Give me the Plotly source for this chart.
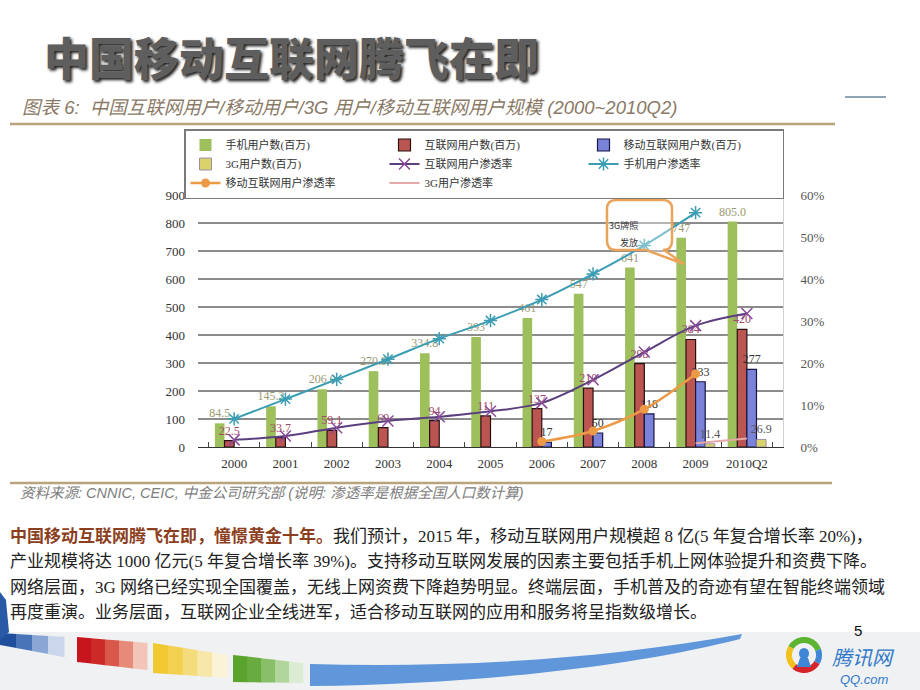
import numpy as np
import plotly.graph_objects as go

# ---------------- data ----------------
years = ["2000", "2001", "2002", "2003", "2004", "2005", "2006", "2007", "2008", "2009", "2010Q2"]
mobile_users = [84.5, 145.2, 206.0, 270.9, 334.8, 393, 461, 547, 641, 747, 805.0]
mobile_labels = ["84.5", "145.2", "206.0", "270.9", "334.8", "393", "461", "547", "641", "747", "805.0"]
internet_users = [22.5, 33.7, 59.1, 69, 94, 111, 137, 210, 298, 384, 420]
mobile_internet_users = [None, None, None, None, None, None, 17, 50, 118, 233, 277]
users_3g = [None, None, None, None, None, None, None, None, None, 11.4, 26.9]
internet_pen = [1.7, 2.6, 4.6, 6.2, 7.2, 8.5, 10.5, 16.0, 22.6, 28.9, 31.8]
mobile_pen = [6.7, 11.4, 16.1, 20.9, 25.8, 30.1, 35.1, 41.2, 48.0, 55.8, None]
mobile_internet_pen = [None, None, None, None, None, None, 1.3, 3.8, 9.0, 17.4, None]
pen_3g = [None, None, None, None, None, None, None, None, None, 0.9, 2.0]

left_ticks = [0, 100, 200, 300, 400, 500, 600, 700, 800, 900]
right_ticks = [0, 10, 20, 30, 40, 50, 60]
right_labels = ["0%", "10%", "20%", "30%", "40%", "50%", "60%"]

W, H = 920, 690
L, R, T, B = 198, 783, 195, 447


def px(x):
    return (x - L) / (R - L)


def py(y):
    return (B - y) / (B - T)


def path_from(points, close=True):
    s = "M " + " L ".join(f"{px(x):.5f},{py(y):.5f}" for x, y in points)
    return s + (" Z" if close else "")


def fmt(v):
    return None if v is None else (f"{v:g}")


SERIF = "Liberation Serif, Noto Sans CJK SC, serif"
CJK = "Noto Sans CJK SC, sans-serif"
GRID = "#8c8c8c"

fig = go.Figure()

fig.add_trace(go.Bar(
    x=years, y=mobile_users, name="手机用户数(百万)",
    marker=dict(color="#9dbf5c", line=dict(width=0)),
    text=mobile_labels, textposition="outside", textangle=0, constraintext="none",
    textfont=dict(family=SERIF, size=12, color="#9a9a72"), cliponaxis=False,
))
fig.add_trace(go.Bar(
    x=years, y=internet_users, name="互联网用户数(百万)",
    marker=dict(color="#bb5552", line=dict(width=1.2, color="#2a1010")),
    text=[fmt(v) for v in internet_users], textposition="outside", textangle=0, constraintext="none",
    textfont=dict(family=SERIF, size=12, color="#a04a66"), cliponaxis=False,
))
fig.add_trace(go.Bar(
    x=years, y=mobile_internet_users, name="移动互联网用户数(百万)",
    marker=dict(color="#7b83d8", line=dict(width=1.2, color="#15154a")),
    text=[fmt(v) for v in mobile_internet_users], textposition="outside", textangle=0, constraintext="none",
    textfont=dict(family=SERIF, size=12, color="#333333"), cliponaxis=False,
))
fig.add_trace(go.Bar(
    x=years, y=users_3g, name="3G用户数(百万)",
    marker=dict(color="#d9d36a", line=dict(width=0.8, color="#8a7aa0")),
    text=[fmt(v) for v in users_3g], textposition="outside", textangle=0, constraintext="none",
    textfont=dict(family=SERIF, size=12, color="#555555"), cliponaxis=False,
))

fig.add_trace(go.Scatter(
    x=years, y=internet_pen, name="互联网用户渗透率", yaxis="y2", mode="lines+markers",
    line=dict(color="#5b3f7e", width=2, shape="spline"),
    marker=dict(symbol="x-thin", size=11, line=dict(width=1.5, color="#8a4a9a")),
))
fig.add_trace(go.Scatter(
    x=years, y=mobile_pen, name="手机用户渗透率", yaxis="y2", mode="lines+markers",
    line=dict(color="#3a9db4", width=2, shape="spline"),
    marker=dict(symbol="asterisk", size=11, line=dict(width=1.5, color="#3a9db4")),
))
fig.add_trace(go.Scatter(
    x=years, y=mobile_internet_pen, name="移动互联网用户渗透率", yaxis="y2", mode="lines+markers",
    line=dict(color="#ec9a45", width=2.5, shape="spline"),
    marker=dict(symbol="circle", size=9, color="#ec9a45"),
))
fig.add_trace(go.Scatter(
    x=years, y=pen_3g, name="3G用户渗透率", yaxis="y2", mode="lines",
    line=dict(color="#e4a8a8", width=2),
))

shapes = []
annotations = []

# page decorations
shapes.append(dict(type="line", xref="paper", yref="paper", x0=px(10), x1=px(835), y0=py(124), y1=py(124),
                   line=dict(color="#b9a27e", width=2.5), layer="below"))
shapes.append(dict(type="line", xref="paper", yref="paper", x0=px(845), x1=px(886), y0=py(97), y1=py(97),
                   line=dict(color="#8ea4b4", width=2), layer="below"))
shapes.append(dict(type="line", xref="paper", yref="paper", x0=px(10), x1=px(832), y0=py(483), y1=py(483),
                   line=dict(color="#b9a27e", width=2.5), layer="below"))

# callout "3G牌照发放"
x0, x1, y0, y1, r = 607, 672, 200, 250, 9
callout = (f"M {px(x0 + r):.5f},{py(y0):.5f} L {px(x1 - r):.5f},{py(y0):.5f} "
           f"Q {px(x1):.5f},{py(y0):.5f} {px(x1):.5f},{py(y0 + r):.5f} "
           f"L {px(x1):.5f},{py(y1 - r):.5f} Q {px(x1):.5f},{py(y1):.5f} {px(x1 - r):.5f},{py(y1):.5f} "
           f"L {px(664):.5f},{py(y1):.5f} L {px(684):.5f},{py(264):.5f} L {px(646):.5f},{py(y1):.5f} "
           f"L {px(x0 + r):.5f},{py(y1):.5f} Q {px(x0):.5f},{py(y1):.5f} {px(x0):.5f},{py(y1 - r):.5f} "
           f"L {px(x0):.5f},{py(y0 + r):.5f} Q {px(x0):.5f},{py(y0):.5f} {px(x0 + r):.5f},{py(y0):.5f} Z")
shapes.append(dict(type="path", xref="paper", yref="paper", path=callout,
                   line=dict(color="#e9a45a", width=2.5), fillcolor="rgba(255,255,255,0.35)", layer="above"))
annotations.append(dict(x=px(640), y=py(217), xref="paper", yref="paper", text="3G牌照", showarrow=False,
                        font=dict(family=CJK, size=9, color="#333333")))
annotations.append(dict(x=px(640), y=py(234), xref="paper", yref="paper", text="发放", showarrow=False,
                        font=dict(family=CJK, size=9, color="#333333")))

# bottom band
shapes.append(dict(type="rect", xref="paper", yref="paper", x0=px(0), x1=px(920), y0=py(690), y1=py(632),
                   fillcolor="#f0f1f3", line=dict(width=0), layer="below"))
# left blue swoosh (fade in steps)
blue_steps = ["#1f4f9c", "#4a74b8", "#8aa6d4", "#c9d6ec"]
for i, c in enumerate(blue_steps):
    xa, xb = i * 16, (i + 1) * 16
    ta, tb = 633 + xa * 0.06, 633 + xb * 0.06
    ba, bb = 645 + xa * 0.19, 645 + xb * 0.19
    shapes.append(dict(type="path", xref="paper", yref="paper",
                       path=path_from([(xa, ta), (xb + 0.5, tb), (xb + 0.5, bb), (xa, ba)]),
                       fillcolor=c, line=dict(width=0), layer="below"))
shapes.append(dict(type="path", xref="paper", yref="paper",
                   path=path_from([(0, 592), (6, 600), (9, 632), (0, 640)]),
                   fillcolor="#2a5aa6", line=dict(width=0), layer="below"))


def block(xl, xr, tl, tr, bl, br, colors):
    n = len(colors)
    for i, c in enumerate(colors):
        fa, fb = i / n, (i + 1) / n
        xa, xb = xl + (xr - xl) * fa, xl + (xr - xl) * fb
        ta, tb = tl + (tr - tl) * fa, tl + (tr - tl) * fb
        ba, bb = bl + (br - bl) * fa, bl + (br - bl) * fb
        shapes.append(dict(type="path", xref="paper", yref="paper",
                           path=path_from([(xa, ta), (xb + 0.5, tb), (xb + 0.5, bb), (xa, ba)]),
                           fillcolor=c, line=dict(width=0), layer="below"))


block(77, 147, 637, 643, 662, 670, ["#c8141c", "#cc2a26", "#d9574a", "#e68a7a", "#f3c4b8"])
block(153, 227, 643, 655, 673, 678, ["#f0c830", "#f2d050", "#f4db7c", "#f7e7a8", "#fbf3d8"])
block(233, 303, 655, 663, 682, 683, ["#5aa32c", "#68ab3e", "#88bf68", "#b1d69c", "#dcecd2"])
swoosh = (f"M {px(310):.5f},{py(664):.5f} C {px(450):.5f},{py(668):.5f} {px(600):.5f},{py(660):.5f} "
          f"{px(742):.5f},{py(634):.5f} L {px(740):.5f},{py(639):.5f} C {px(650):.5f},{py(662):.5f} "
          f"{px(500):.5f},{py(684):.5f} {px(310):.5f},{py(686):.5f} Z")
shapes.append(dict(type="path", xref="paper", yref="paper", path=swoosh,
                   fillcolor="#5f97da", line=dict(width=0), layer="below"))

# logo ring
cx, cy, rr = 804, 655, 15


def arc(a0, a1, color, width=6):
    ang = np.radians(np.linspace(a0, a1, 30))
    pts = [(cx + rr * np.cos(a), cy - rr * np.sin(a)) for a in ang]
    shapes.append(dict(type="path", xref="paper", yref="paper", path=path_from(pts, close=False),
                       line=dict(color=color, width=width), layer="above"))


arc(20, 150, "#5cb531")
arc(150, 230, "#f2c21a")
arc(230, 330, "#d6262a")
arc(330, 380, "#3f86d6")
shapes.append(dict(type="circle", xref="paper", yref="paper", x0=px(799), x1=px(809), y0=py(659), y1=py(648),
                   fillcolor="#3f86d6", line=dict(width=0), layer="above"))
shapes.append(dict(type="path", xref="paper", yref="paper",
                   path=path_from([(797, 667), (800, 658), (808, 658), (811, 667)]),
                   fillcolor="#3f86d6", line=dict(width=0), layer="above"))
annotations.append(dict(x=px(831), y=py(656), xref="paper", yref="paper", xanchor="left", yanchor="middle",
                        text="腾讯网", showarrow=False, borderpad=0,
                        font=dict(family=CJK, size=20, color="#2f78c8", style="italic")))
annotations.append(dict(x=px(839), y=py(679), xref="paper", yref="paper", xanchor="left", yanchor="middle",
                        text="QQ.com", showarrow=False, borderpad=0,
                        font=dict(family="Liberation Sans, Arial", size=13, color="#2f78c8", style="italic")))
annotations.append(dict(x=px(858), y=py(630), xref="paper", yref="paper", xanchor="center", yanchor="middle",
                        text="5", showarrow=False, borderpad=0,
                        font=dict(family="Liberation Sans, Arial", size=15, color="#111111")))

# titles and texts
annotations.append(dict(x=px(42), y=py(56), xref="paper", yref="paper", xanchor="left", yanchor="middle",
                        text="中国移动互联网腾飞在即", showarrow=False,
                        font=dict(family=CJK, size=45, color="#5e5e5e", weight=900,
                                  shadow="2px 2px 3px #1e1e1e")))
annotations.append(dict(x=px(20), y=py(108), xref="paper", yref="paper", xanchor="left", yanchor="middle",
                        text="图表 6:  中国互联网用户/移动用户/3G 用户/移动互联网用户规模 (2000~2010Q2)",
                        showarrow=False,
                        font=dict(family="Liberation Sans, Noto Sans CJK SC", size=18.5, color="#8a7966",
                                  style="italic")))
annotations.append(dict(x=px(18), y=py(493), xref="paper", yref="paper", xanchor="left", yanchor="middle",
                        text="资料来源: CNNIC, CEIC, 中金公司研究部 (说明: 渗透率是根据全国人口数计算)",
                        showarrow=False,
                        font=dict(family="Liberation Sans, Noto Sans CJK SC", size=14.5, color="#7e7e7e",
                                  style="italic")))

para = [
    "<b><span style='color:#8c3f1e'>中国移动互联网腾飞在即，憧憬黄金十年。</span></b>我们预计，2015 年，移动互联网用户规模超 8 亿(5 年复合增长率 20%)，",
    "产业规模将达 1000 亿元(5 年复合增长率 39%)。支持移动互联网发展的因素主要包括手机上网体验提升和资费下降。",
    "网络层面，3G 网络已经实现全国覆盖，无线上网资费下降趋势明显。终端层面，手机普及的奇迹有望在智能终端领域",
    "再度重演。业务层面，互联网企业全线进军，适合移动互联网的应用和服务将呈指数级增长。",
]
para_y = [536, 561, 587, 612]
for t, yy in zip(para, para_y):
    annotations.append(dict(x=px(8), y=py(yy), xref="paper", yref="paper", xanchor="left", yanchor="middle",
                            text=t, showarrow=False,
                            font=dict(family=SERIF, size=17, color="#222222")))

fig.update_layout(
    width=W, height=H,
    margin=dict(l=L, r=W - R, t=T, b=H - B, pad=0, autoexpand=False),
    paper_bgcolor="white", plot_bgcolor="rgba(255,255,255,0)",
    barmode="group", bargap=0.25, bargroupgap=0,
    showlegend=True,
    legend=dict(
        orientation="h", x=px(184), y=py(129), xanchor="left", yanchor="top",
        bgcolor="white", bordercolor="#7a7a7a", borderwidth=1.5,
        font=dict(family=SERIF, size=11, color="#333333"),
        entrywidth=154, entrywidthmode="pixels", tracegroupgap=0, itemwidth=30,
    ),
    xaxis=dict(
        type="category", categoryorder="array", categoryarray=years,
        showline=True, linecolor="#333333", linewidth=1.2,
        ticks="inside", tickson="boundaries", ticklen=5, tickcolor="#444444",
        tickfont=dict(family=SERIF, size=13, color="#333333"), ticklabelstandoff=4,
        showgrid=False, zeroline=False,
    ),
    yaxis=dict(
        range=[0, 900], tickmode="array", tickvals=left_ticks,
        showgrid=True, gridcolor=GRID, gridwidth=1.6, zeroline=False, showline=False,
        tickfont=dict(family=SERIF, size=13, color="#333333"), ticklabelstandoff=12,
    ),
    yaxis2=dict(
        overlaying="y", side="right", range=[0, 60], tickmode="array", tickvals=right_ticks,
        ticktext=right_labels, showgrid=False, zeroline=False, showline=True, linecolor="#d0d0d0",
        linewidth=1,
        tickfont=dict(family=SERIF, size=13, color="#555555"), ticklabelstandoff=14,
    ),
    shapes=shapes,
    annotations=annotations,
)

fig.write_html("out.html", config={"displayModeBar": False},
               post_script="document.body.style.margin='0';document.body.style.overflow='hidden';")
